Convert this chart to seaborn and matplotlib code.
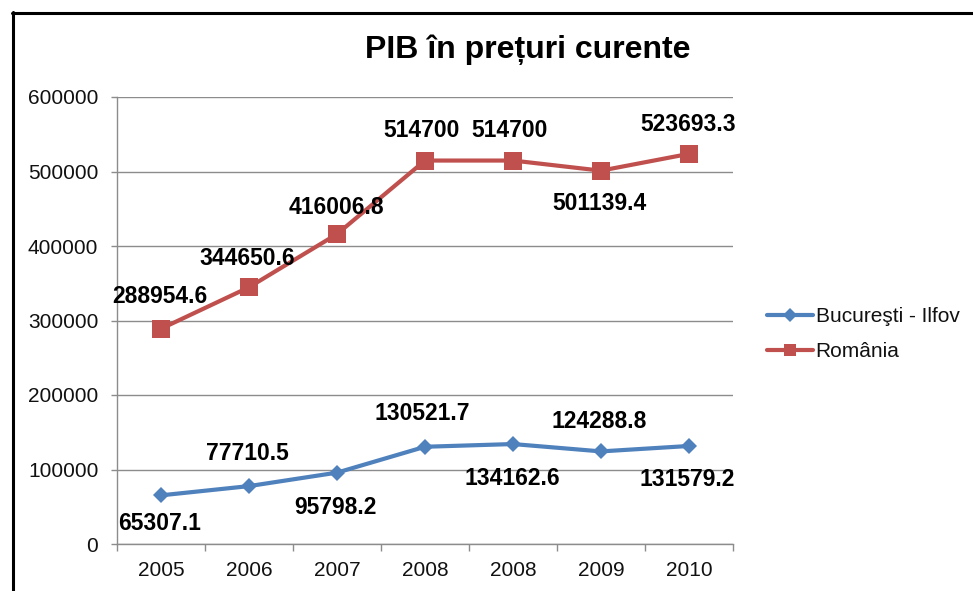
import numpy as np
import pandas as pd
import matplotlib
matplotlib.use('Agg')
import matplotlib.pyplot as plt
from matplotlib.lines import Line2D
import seaborn as sns

# data
years = ['2005', '2006', '2007', '2008', '2008', '2009', '2010']
bucuresti = [65307.1, 77710.5, 95798.2, 130521.7, 134162.6, 124288.8, 131579.2]
romania = [288954.6, 344650.6, 416006.8, 514700, 514700, 501139.4, 523693.3]
bucuresti_labels = ['65307.1', '77710.5', '95798.2', '130521.7', '134162.6', '124288.8', '131579.2']
romania_labels = ['288954.6', '344650.6', '416006.8', '514700', '514700', '501139.4', '523693.3']

# label placement (pixel offsets from the marker)
buc_dx = [-1, -2, -2, -3, -1, -2, -2]
buc_dy = [-28, 33, -35, 33, -34, 30, -34]
rom_dx = [-1, -2, -1, -3, -3, -2, -1]
rom_dy = [32, 29, 27, 30, 30, -33, 29]

blue = '#4F81BD'
red = '#C0504D'
grid_col = '#8C8C8C'

sns.set_theme(style='white')
plt.rcParams['font.family'] = ['Liberation Sans', 'DejaVu Sans']
plt.rcParams['text.color'] = 'black'

pos = np.arange(len(years))
df = pd.DataFrame({
    'pos': np.concatenate([pos, pos]),
    'val': bucuresti + romania,
    'serie': ['Bucureşti - Ilfov'] * len(years) + ['România'] * len(years),
})

fig = plt.figure(figsize=(9.73, 5.91), dpi=100)
ax = fig.add_axes([117 / 973, 1 - 544 / 591, 616 / 973, 447 / 591])

sns.lineplot(data=df, x='pos', y='val', hue='serie', style='serie',
             palette=[blue, red], markers=['D', 's'], dashes=False,
             linewidth=3, ax=ax, legend=False)
# marker sizes differ per series
for line, ms in zip(ax.lines, [8.5, 13]):
    line.set_markersize(ms)
    line.set_markeredgewidth(0)

for x, v, t, dx, dy in zip(pos, bucuresti, bucuresti_labels, buc_dx, buc_dy):
    ax.annotate(t, (x, v), xytext=(dx, dy), textcoords='offset pixels',
                ha='center', va='center', fontsize=16.5, fontweight='bold', color='black')
for x, v, t, dx, dy in zip(pos, romania, romania_labels, rom_dx, rom_dy):
    ax.annotate(t, (x, v), xytext=(dx, dy), textcoords='offset pixels',
                ha='center', va='center', fontsize=16.5, fontweight='bold', color='black')

ax.set_xlim(-0.5, len(years) - 0.5)
ax.set_ylim(0, 600000)
ax.set_yticks(np.arange(0, 600001, 100000))
ax.set_yticklabels([str(v) for v in range(0, 600001, 100000)])
ax.set_xticks(np.arange(-0.5, len(years), 1.0))
ax.set_xticklabels([])
ax.set_xticks(pos, minor=True)
ax.set_xticklabels(years, minor=True)
ax.tick_params(axis='x', which='major', length=5, width=1, color=grid_col, direction='out', bottom=True)
ax.tick_params(axis='x', which='minor', length=0, pad=12, labelsize=15, labelcolor='#111111')
ax.tick_params(axis='y', length=4.5, width=1, color=grid_col, direction='out', left=True, pad=9,
               labelsize=15, labelcolor='#111111')
ax.set_xlabel('')
ax.set_ylabel('')
ax.grid(axis='y', color=grid_col, linewidth=1)
ax.grid(axis='x', visible=False)
for side in ['top', 'right']:
    ax.spines[side].set_visible(False)
for side in ['left', 'bottom']:
    ax.spines[side].set_color(grid_col)
    ax.spines[side].set_linewidth(1)

fig.text(528 / 973, 1 - 50 / 591, 'PIB în prețuri curente', ha='center', va='center',
         fontsize=23, fontweight='bold', color='black')

handles = [Line2D([0], [0], color=blue, lw=3, marker='D', markersize=7, markeredgewidth=0),
           Line2D([0], [0], color=red, lw=3, marker='s', markersize=9, markeredgewidth=0)]
fig.legend(handles, ['Bucureşti - Ilfov', 'România'], loc='center left',
           bbox_to_anchor=(748 / 973, 1 - 334 / 591), frameon=False, fontsize=15,
           handlelength=2.2, handletextpad=0.15, labelspacing=0.75, labelcolor='#111111')

# chart border (right and bottom sides fall outside the crop)
fig.add_artist(Line2D([12 / 973, 1.0], [1 - 12.5 / 591, 1 - 12.5 / 591], color='black', lw=2.2))
fig.add_artist(Line2D([12.5 / 973, 12.5 / 973], [0.0, 1 - 12 / 591], color='black', lw=2.2))

fig.savefig('out.png', dpi=100)
